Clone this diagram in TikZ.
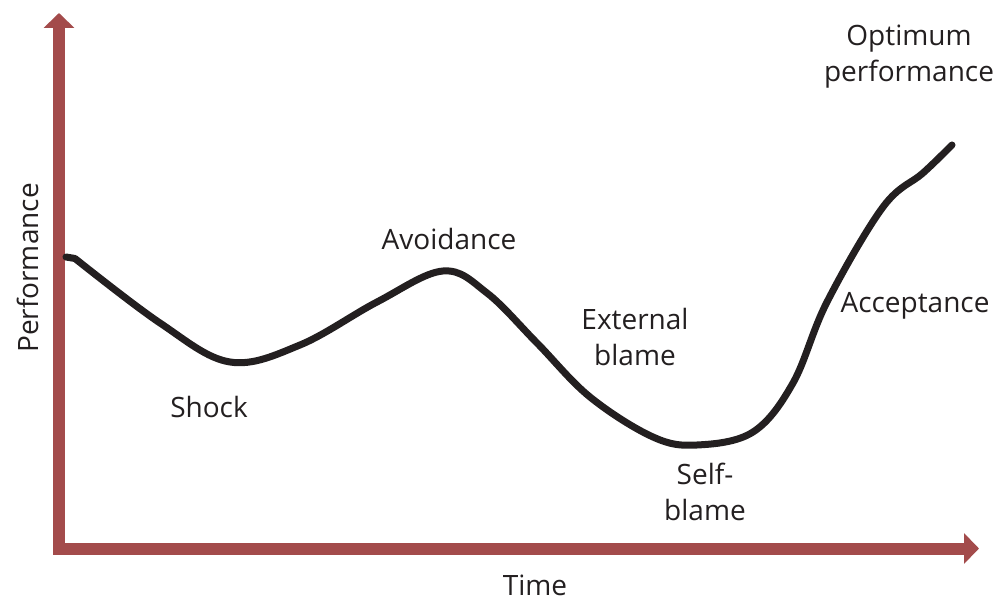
\documentclass[tikz,border=0pt]{standalone}
\usepackage{fontspec}
\setmainfont{Open Sans}
\usetikzlibrary{arrows.meta}
\definecolor{axisred}{RGB}{163,75,75}
\definecolor{curveblack}{RGB}{35,31,32}
\tikzset{
  axisline/.style={draw=axisred, line width=12pt, line join=miter,
    {Triangle[width=30pt,length=15pt]}-{Triangle[width=30pt,length=15pt]}},
  perfcurve/.style={draw=curveblack, line width=7pt, line cap=round, line join=round},
  lbl/.style={font=\fontsize{28}{36}\selectfont, text=curveblack, inner sep=0pt, align=center}
}
\begin{document}
\begin{tikzpicture}[x=1pt,y=-1pt]
\useasboundingbox (0,0) rectangle (995,601);
\coordinate (ytip) at (59,13);
\coordinate (origin) at (59,548.5);
\coordinate (xtip) at (979,548.5);
\draw[axisline] (ytip) -- (origin) -- (xtip);
\draw[perfcurve] (66,257) -- (75,258.5)
  plot[smooth, tension=0.6] coordinates {(75,258.5) (160,323) (230,362) (300,345) (377,302) (443,271) (487,293) (537,343) (590,397) (653,437) (697,445) (753,432) (793,383) (827,302) (883,207) (923,173) (952,145)};
\node[lbl] (optimum) at (909,57) {Optimum\\performance};
\node[lbl] (avoid) at (449,239) {Avoidance};
\node[lbl] (shock) at (209,407) {Shock};
\node[lbl] (ext) at (635,337) {External\\blame};
\node[lbl] (self) at (705,492) {Self-\\blame};
\node[lbl] (accept) at (915,306) {Acceptance};
\node[lbl, rotate=90] (perf) at (28,268) {Performance};
\node[lbl] (time) at (535,585) {Time};
\end{tikzpicture}
\end{document}
